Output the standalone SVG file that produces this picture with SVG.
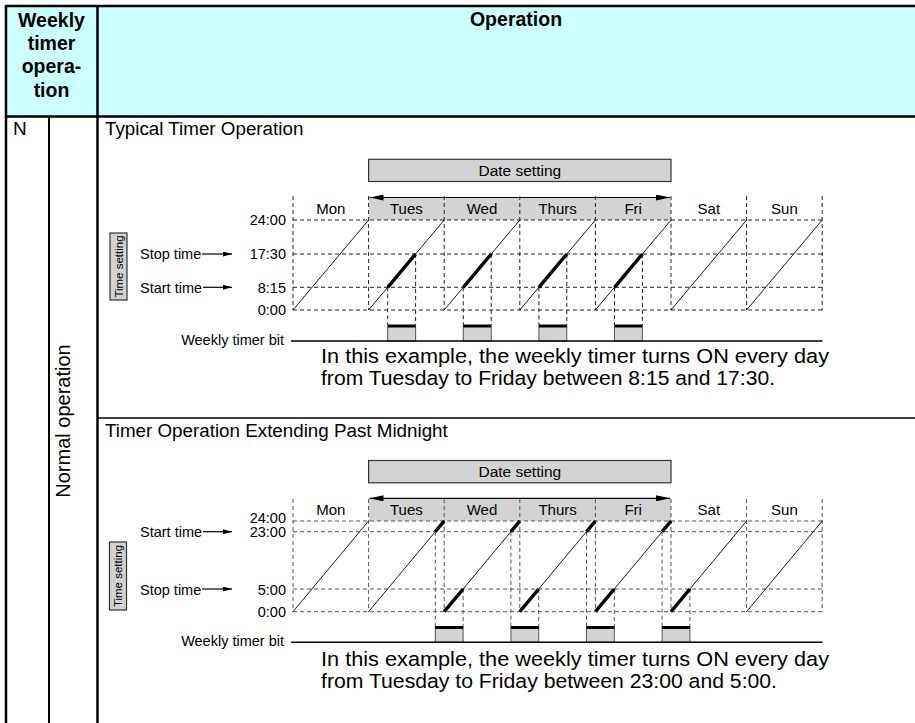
<svg xmlns="http://www.w3.org/2000/svg" width="915" height="723" viewBox="0 0 915 723">
<style>
text{font-family:"Liberation Sans",Arial,Helvetica,sans-serif;fill:#000}
.hdr{font-weight:bold;font-size:19.5px;text-anchor:middle}
.ttl{font-size:18.8px}
.day{font-size:15px;text-anchor:middle}
.tick{font-size:14.5px;text-anchor:end}
.sm{font-size:14.5px}
.cap{font-size:20.5px}
.ts{font-size:11.5px;text-anchor:middle}
.ds{font-size:15.5px;text-anchor:middle}
.tb{stroke:#000;fill:none}
.dash{stroke:#222;stroke-width:1;stroke-dasharray:4 3;fill:none}
.dash2{stroke:#555;stroke-width:1;stroke-dasharray:4 3;fill:none}
.thin{stroke:#000;stroke-width:0.9;fill:none}
.thick{stroke:#000;stroke-width:3.4;fill:none}
.box{fill:#d3d3d3;stroke:#333;stroke-width:1.2}
.cell{fill:#d3d3d3;stroke:none}
.bit{fill:#d3d3d3;stroke:#555;stroke-width:1}
.on{stroke:#000;stroke-width:3}
.base{stroke:#000;stroke-width:1.6}
.arr{stroke:#000;stroke-width:1.2;fill:none}
</style>
<defs>
<marker id="ah" viewBox="0 0 14 6" refX="14" refY="3" markerWidth="14" markerHeight="6" markerUnits="userSpaceOnUse" orient="auto-start-reverse"><path d="M0,0 L14,3 L0,6 z" fill="#000"/></marker>
<marker id="as" viewBox="0 0 9 5" refX="9" refY="2.5" markerWidth="9" markerHeight="5" markerUnits="userSpaceOnUse" orient="auto"><path d="M0,0 L9,2.5 L0,5 z" fill="#000"/></marker>
</defs>

<g id="table">
<rect x="6" y="6" width="909" height="110.5" fill="#ccffff"/>
<line class="tb" x1="5" y1="6" x2="915" y2="6" stroke-width="2.5"/>
<line class="tb" x1="5" y1="116.5" x2="915" y2="116.5" stroke-width="2.5"/>
<line class="tb" x1="6" y1="5" x2="6" y2="723" stroke-width="2.5"/>
<line class="tb" x1="49" y1="116" x2="49" y2="723" stroke-width="2"/>
<line class="tb" x1="97.5" y1="5" x2="97.5" y2="723" stroke-width="2.5"/>
<line class="tb" x1="97.5" y1="418" x2="915" y2="418" stroke-width="1.5"/>
</g>

<g id="header-weekly">
<text class="hdr" x="51.5" y="26.5">Weekly</text>
<text class="hdr" x="51.5" y="50">timer</text>
<text class="hdr" x="51.5" y="73">opera-</text>
<text class="hdr" x="51.5" y="97">tion</text>
</g>
<g id="header-operation"><text class="hdr" x="516" y="26">Operation</text></g>
<g id="cell-n"><text x="13" y="135" font-size="19">N</text></g>
<g id="cell-normal"><text transform="translate(70,421) rotate(-90)" x="0" y="0" font-size="20" text-anchor="middle">Normal operation</text></g>

<!-- Chart 1 -->
<g id="chart1">
<text class="ttl" x="105" y="135">Typical Timer Operation</text>
<rect class="box" x="368.6" y="159.3" width="302.4" height="22.2"/>
<text class="ds" x="519.8" y="176">Date setting</text>
<rect class="cell" x="368.6" y="197.5" width="302.4" height="22.5"/>
<g class="dash">
<path d="M293,196V310M368.6,196V310M444.2,196V310M519.8,196V310M595.4,196V310M671,196V310M746.6,196V310M822.2,196V310"/>
<path d="M293,220H822.2M293,254H822.2M293,287.3H822.2M293,310H822.2"/>
<path d="M387.7,287.3V325M415.6,254V325M463.3,287.3V325M491.2,254V325M538.9,287.3V325M566.8,254V325M614.5,287.3V325M642.4,254V325"/>
</g>
<text class="day" x="330.8" y="213.5">Mon</text>
<text class="day" x="406.4" y="213.5">Tues</text>
<text class="day" x="482" y="213.5">Wed</text>
<text class="day" x="557.6" y="213.5">Thurs</text>
<text class="day" x="633.2" y="213.5">Fri</text>
<text class="day" x="708.8" y="213.5">Sat</text>
<text class="day" x="784.4" y="213.5">Sun</text>
<text class="tick" x="286" y="225.3">24:00</text>
<text class="tick" x="286" y="258.5">17:30</text>
<text class="tick" x="286" y="292.5">8:15</text>
<text class="tick" x="286" y="315">0:00</text>
<text class="sm" x="140" y="258.5">Stop time</text>
<text class="sm" x="140" y="292.5">Start time</text>
<rect class="box" x="110" y="233" width="17" height="67"/>
<text class="ts" transform="translate(118.5,266.5) rotate(-90)" x="0" y="4">Time setting</text>
<path class="thin" d="M293,310L368.6,220M368.6,310L444.2,220M444.2,310L519.8,220M519.8,310L595.4,220M595.4,310L671,220M671,310L746.6,220M746.6,310L822.2,220"/>
<path class="thick" d="M387.7,287.3L415.6,254M463.3,287.3L491.2,254M538.9,287.3L566.8,254M614.5,287.3L642.4,254"/>
<rect class="bit" x="387.7" y="326" width="27.9" height="15"/>
<rect class="bit" x="463.3" y="326" width="27.9" height="15"/>
<rect class="bit" x="538.9" y="326" width="27.9" height="15"/>
<rect class="bit" x="614.5" y="326" width="27.9" height="15"/>
<path class="on" d="M387.7,326H415.6M463.3,326H491.2M538.9,326H566.8M614.5,326H642.4"/>
<line class="base" x1="291" y1="341" x2="822.5" y2="341"/>
<text class="sm" x="284" y="345" text-anchor="end" font-size="15.5">Weekly timer bit</text>
<text class="cap" x="321" y="363" textLength="508" lengthAdjust="spacingAndGlyphs">In this example, the weekly timer turns ON every day</text>
<text class="cap" x="321" y="385" textLength="454" lengthAdjust="spacingAndGlyphs">from Tuesday to Friday between 8:15 and 17:30.</text>
</g>

<!-- Chart 2 -->
<g id="chart2">
<text class="ttl" x="105" y="437">Timer Operation Extending Past Midnight</text>
<rect class="box" x="368.6" y="460.5" width="302.4" height="22.3"/>
<text class="ds" x="519.8" y="476.5">Date setting</text>
<rect class="cell" x="368.6" y="498.3" width="302.4" height="22.7"/>
<g class="dash2">
<path d="M293,499V611.7M368.6,499V611.7M444.2,499V611.7M519.8,499V611.7M595.4,499V611.7M671,499V611.7M746.6,499V611.7M822.2,499V611.7"/>
<path d="M293,521H822.2M293,531.7H822.2M293,589H822.2M293,611.7H822.2"/>
<path d="M435.3,531.7V627M463.1,589V627M510.9,531.7V627M538.7,589V627M586.5,531.7V627M614.3,589V627M662.1,531.7V627M689.9,589V627"/>
</g>
<text class="day" x="330.8" y="515">Mon</text>
<text class="day" x="406.4" y="515">Tues</text>
<text class="day" x="482" y="515">Wed</text>
<text class="day" x="557.6" y="515">Thurs</text>
<text class="day" x="633.2" y="515">Fri</text>
<text class="day" x="708.8" y="515">Sat</text>
<text class="day" x="784.4" y="515">Sun</text>
<text class="tick" x="286" y="522.6">24:00</text>
<text class="tick" x="286" y="537.4">23:00</text>
<text class="tick" x="286" y="595">5:00</text>
<text class="tick" x="286" y="616.7">0:00</text>
<text class="sm" x="140" y="537">Start time</text>
<text class="sm" x="140" y="595">Stop time</text>
<rect class="box" x="109.5" y="542" width="17" height="68"/>
<text class="ts" transform="translate(118,576) rotate(-90)" x="0" y="4">Time setting</text>
<path class="thin" d="M293,611.7L368.6,521M368.6,611.7L444.2,521M444.2,611.7L519.8,521M519.8,611.7L595.4,521M595.4,611.7L671,521M671,611.7L746.6,521M746.6,611.7L822.2,521"/>
<path class="thick" d="M435.3,531.7L444.2,521M510.9,531.7L519.8,521M586.5,531.7L595.4,521M662.1,531.7L671,521M444.2,611.7L463.1,589M519.8,611.7L538.7,589M595.4,611.7L614.3,589M671,611.7L689.9,589"/>
<rect class="bit" x="435.3" y="627.5" width="27.8" height="14.8"/>
<rect class="bit" x="510.9" y="627.5" width="27.8" height="14.8"/>
<rect class="bit" x="586.5" y="627.5" width="27.8" height="14.8"/>
<rect class="bit" x="662.1" y="627.5" width="27.8" height="14.8"/>
<path class="on" d="M435.3,627.5H463.1M510.9,627.5H538.7M586.5,627.5H614.3M662.1,627.5H689.9"/>
<line class="base" x1="291" y1="642.3" x2="822.5" y2="642.3"/>
<text class="sm" x="284" y="646" text-anchor="end" font-size="15.5">Weekly timer bit</text>
<text class="cap" x="321" y="666" textLength="508" lengthAdjust="spacingAndGlyphs">In this example, the weekly timer turns ON every day</text>
<text class="cap" x="321" y="688" textLength="456" lengthAdjust="spacingAndGlyphs">from Tuesday to Friday between 23:00 and 5:00.</text>
</g>

<g id="connectors">
<line class="arr" x1="369.5" y1="197.5" x2="670" y2="197.5" marker-start="url(#ah)" marker-end="url(#ah)"/>
<line class="arr" x1="369.5" y1="498.3" x2="670" y2="498.3" marker-start="url(#ah)" marker-end="url(#ah)"/>
<line class="arr" x1="202" y1="254" x2="232" y2="254" marker-end="url(#as)"/>
<line class="arr" x1="203" y1="287.3" x2="232" y2="287.3" marker-end="url(#as)"/>
<line class="arr" x1="203" y1="531.7" x2="232" y2="531.7" marker-end="url(#as)"/>
<line class="arr" x1="202" y1="589" x2="232" y2="589" marker-end="url(#as)"/>
</g>
</svg>
